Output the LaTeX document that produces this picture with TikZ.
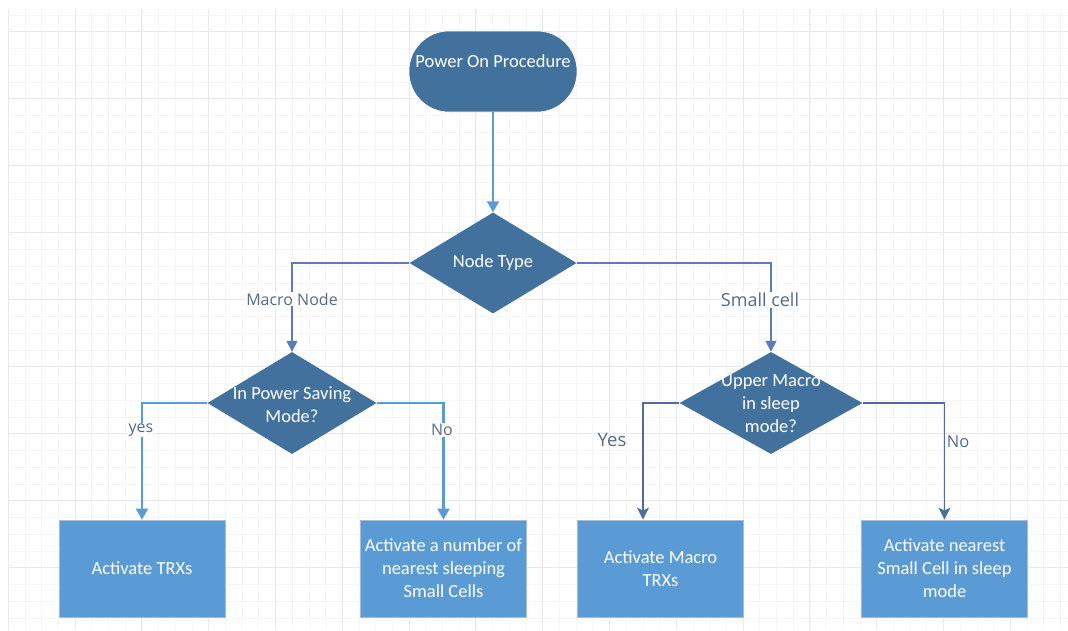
\documentclass[tikz,border=0pt]{standalone}
\usepackage{fontspec}
\setmainfont{Carlito}
\newfontfamily\lblfont{Open Sans}
\usetikzlibrary{shapes.geometric,arrows.meta}
\definecolor{darkfill}{HTML}{43719E}
\definecolor{boxfill}{HTML}{5B9BD5}
\definecolor{boxedge}{HTML}{A9BCD0}
\definecolor{lightline}{HTML}{5B9BD5}
\definecolor{midline}{HTML}{5A7DB5}
\definecolor{darkline}{HTML}{4E6C9C}
\definecolor{lbl}{HTML}{56698A}
\definecolor{gridminor}{HTML}{F6F6F6}
\definecolor{gridmajor}{HTML}{E9E9E9}
\tikzset{
  nodefont/.style={font=\fontsize{18.5}{23}\selectfont, text=white, align=center},
  term/.style={draw=white, line width=0.6pt, fill=darkfill, rounded corners=40pt, minimum width=168pt, minimum height=81pt, inner sep=0pt},
  decision/.style={diamond, fill=darkfill, draw=none, inner sep=0pt},
  actbox/.style={rectangle, fill=boxfill, draw=boxedge, line width=0.8pt, minimum width=166pt, minimum height=97pt, inner sep=0pt, nodefont},
  lightarrow/.style={draw=lightline, line width=2.2pt, -{Triangle[width=12pt,length=11pt]}},
  midarrow/.style={draw=midline, line width=1.4pt, -{Triangle[width=11pt,length=11pt]}},
  darkarrow/.style={draw=darkline, line width=1.4pt, -{Stealth[width=12pt,length=12pt,inset=3pt]}},
  edgelabel/.style={text=lbl, inner sep=1pt},
}
\begin{document}
\begin{tikzpicture}[x=1pt,y=-1pt]
\useasboundingbox (0,0) rectangle (1068,630);
\fill[white] (0,0) rectangle (1068,630);
% grid
\foreach \i in {0,...,63} {
  \draw[gridminor, line width=0.8pt] ({8.3+\i*16.7},9) -- ({8.3+\i*16.7},630);
}
\foreach \j in {-1,...,36} {
  \draw[gridminor, line width=0.8pt] (8,{31.7+\j*16.75}) -- (1068,{31.7+\j*16.75});
}
\foreach \i in {0,...,15} {
  \draw[gridmajor, line width=1pt] ({8.3+\i*66.8},9) -- ({8.3+\i*66.8},630);
}
\foreach \j in {0,...,8} {
  \draw[gridmajor, line width=1pt] (8,{31.7+\j*67}) -- (1068,{31.7+\j*67});
}

% nodes
\node[term, label={[nodefont,yshift=10pt]center:Power On Procedure}] (start) at (493,71.5) {};
\node[decision, minimum width=167pt, minimum height=101pt, label={[nodefont]center:Node Type}] (d0) at (493,263) {};
\node[decision, minimum width=169pt, minimum height=102pt, label={[nodefont,yshift=-1.5pt]center:In Power Saving\\Mode?}] (d1) at (292,403) {};
\node[decision, minimum width=183pt, minimum height=102pt, label={[nodefont,yshift=-1pt]center:Upper Macro\\in sleep\\mode?}] (d2) at (771,403) {};

\node[actbox] (b1) at (142,568.5) {Activate TRXs};
\node[actbox] (b2) at (443.5,568.5) {Activate a number of\\nearest sleeping\\Small Cells};
\node[actbox] (b3) at (660.5,568.5) {Activate Macro\\TRXs};
\node[actbox] (b4) at (944.5,568.5) {Activate nearest\\Small Cell in sleep\\mode};

% connectors
\draw[lightarrow] (start.south) -- (d0.north);
\draw[midarrow] (d0.west) -| (d1.north);
\draw[midarrow] (d0.east) -| (d2.north);
\draw[lightarrow] (d1.west) -| (b1.north);
\draw[lightarrow] (d1.east) -| (b2.north);
\coordinate (b3in) at ([xshift=-17.5pt]b3.north);
\draw[darkarrow] (d2.west) -| (b3in);
\draw[darkarrow] (d2.east) -| (b4.north);

% labels
\node[edgelabel, fill=white, font=\lblfont\fontsize{16}{18}\selectfont] (lm) at (292,299) {Macro Node};
\node[edgelabel, fill=white, font=\lblfont\fontsize{18}{20}\selectfont] (ls) at (760,300) {Small cell};
\node[edgelabel, fill=white, font=\lblfont\fontsize{16}{18}\selectfont] (ly1) at (141,430) {yes};
\node[edgelabel, fill=white, font=\lblfont\fontsize{16}{18}\selectfont] (ln1) at (442,430) {No};
\node[edgelabel, font=\lblfont\fontsize{18.5}{20}\selectfont] (ly2) at (612,440) {Yes};
\node[edgelabel, font=\lblfont\fontsize{16.5}{18}\selectfont] (ln2) at (958,442) {No};
\end{tikzpicture}
\end{document}
